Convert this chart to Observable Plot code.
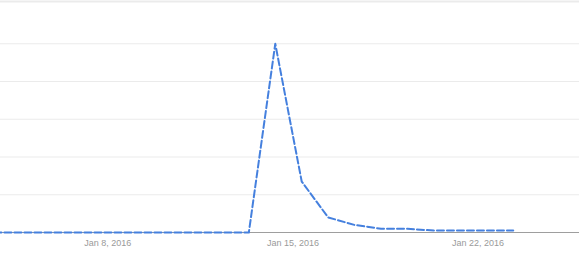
<!DOCTYPE html>
<html>
<head>
<meta charset="utf-8">
<script src="https://cdn.jsdelivr.net/npm/d3@7"></script>
<script src="https://cdn.jsdelivr.net/npm/@observablehq/plot@0.6"></script>
<style>
  html, body { margin: 0; padding: 0; background: #fff; overflow: hidden; }
  #chart svg { display: block; overflow: hidden; }
</style>
</head>
<body>
<div id="chart"></div>
<script>
// Daily interest (Google Trends style), timestamps at midnight Pacific (08:00 UTC)
const dates = [
  "2016-01-03", "2016-01-04", "2016-01-05", "2016-01-06", "2016-01-07",
  "2016-01-08", "2016-01-09", "2016-01-10", "2016-01-11", "2016-01-12",
  "2016-01-13", "2016-01-14", "2016-01-15", "2016-01-16", "2016-01-17",
  "2016-01-18", "2016-01-19", "2016-01-20", "2016-01-21", "2016-01-22",
  "2016-01-23"
];
const values = [
  0, 0, 0, 0, 0,
  0, 0, 0, 0, 0,
  0, 100, 27, 8, 4,
  2, 2, 1, 1, 1,
  1
];
const tickDates = ["2016-01-08", "2016-01-15", "2016-01-22"];
const gridValues = [20, 40, 60, 80, 100];
const yMax = 122.4;

const data = dates.map((d, i) => ({date: new Date(d + "T08:00:00Z"), value: values[i]}));
const ticks = tickDates.map(d => new Date(d + "T00:00:00Z"));
const fmt = d3.utcFormat("%b %-d, %Y");

const chart = Plot.plot({
  width: 579,
  height: 262,
  marginTop: 1,
  marginBottom: 30,
  marginLeft: 0,
  marginRight: 0,
  style: {fontFamily: "Arial, 'Liberation Sans', sans-serif", fontSize: "9px", background: "#fff", overflow: "hidden"},
  x: {type: "utc", domain: [new Date("2016-01-03T22:36:00Z"), new Date("2016-01-25T20:08:00Z")]},
  y: {domain: [0, yMax], axis: null},
  marks: [
    Plot.ruleY(gridValues, {stroke: "#ebebeb", strokeWidth: 1}),
    Plot.ruleY([yMax], {stroke: "#ebebeb", strokeWidth: 2}),
    Plot.ruleY([0], {stroke: "#9e9e9e", strokeWidth: 1}),
    Plot.line(data, {x: "date", y: "value", stroke: "#4580de", strokeWidth: 2, strokeDasharray: "7,3"}),
    Plot.axisX(ticks, {tickSize: 0, tickPadding: 7, tickFormat: fmt, color: "#9a9a9a", fontSize: 9})
  ]
});
document.getElementById("chart").append(chart);
</script>
</body>
</html>
